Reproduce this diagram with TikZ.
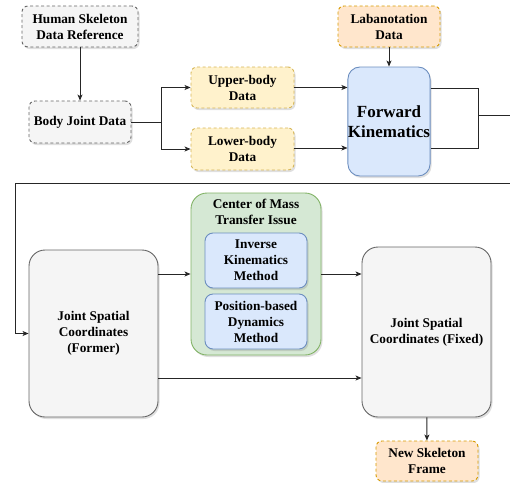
\documentclass[tikz,border=0pt]{standalone}
\usepackage{fontspec}
\setmainfont{Liberation Serif}
\usetikzlibrary{arrows.meta,shadows,calc}
\definecolor{grayfill}{HTML}{F5F5F5}
\definecolor{graydraw}{HTML}{666666}
\definecolor{yelfill}{HTML}{FFF2CC}
\definecolor{yeldraw}{HTML}{D6B656}
\definecolor{orfill}{HTML}{FFE6CC}
\definecolor{ordraw}{HTML}{D79B00}
\definecolor{bluefill}{HTML}{DAE8FC}
\definecolor{bluedraw}{HTML}{6C8EBF}
\definecolor{grnfill}{HTML}{D5E8D4}
\definecolor{grndraw}{HTML}{82B366}
\tikzset{
  x=1pt, y=-1pt,
  base/.style={rectangle, inner sep=0pt, align=center, font=\fontsize{13.3}{16}\selectfont\bfseries,
    line width=0.9pt, drop shadow={shadow xshift=1.5pt, shadow yshift=-2pt, opacity=0.25}},
  dashbox/.style={base, dash pattern=on 3pt off 2.5pt, rounded corners=6pt},
  graybox/.style={dashbox, fill=grayfill, draw=graydraw},
  yelbox/.style={dashbox, fill=yelfill, draw=yeldraw},
  orbox/.style={dashbox, fill=orfill, draw=ordraw},
  bluebox/.style={base, fill=bluefill, draw=bluedraw, rounded corners=8pt},
  bigbox/.style={base, fill=grayfill, draw=graydraw, rounded corners=16pt},
  grnbox/.style={base, fill=grnfill, draw=grndraw, rounded corners=16pt},
  conn/.style={line width=0.9pt, draw=black!85},
  arr/.style={conn, -{Stealth[length=6pt,width=5pt,inset=1.5pt]}},
}
\begin{document}
\begin{tikzpicture}
\useasboundingbox (0,0) rectangle (510,482);
\node[graybox, minimum width=116pt, minimum height=41pt] (hs) at (80,26.5) {Human Skeleton\\Data Reference};
\node[graybox, minimum width=102pt, minimum height=42pt] (bjd) at (80,122) {Body Joint Data};
\node[yelbox, minimum width=103pt, minimum height=41pt] (up) at (242.5,87.5) {Upper-body\\Data};
\node[yelbox, minimum width=103pt, minimum height=42pt] (low) at (242.5,149) {Lower-body\\Data};
\node[orbox, minimum width=102pt, minimum height=41pt] (lab) at (389,26.5) {Labanotation\\Data};
\node[bluebox, rounded corners=12pt, minimum width=82pt, minimum height=109pt,
  font=\fontsize{17}{20}\selectfont\bfseries] (fk) at (389,121.5) {Forward\\Kinematics};
\node[bigbox, minimum width=129pt, minimum height=167pt] (former) at (93.5,333.5) {Joint Spatial\\Coordinates\\(Former)};
\node[grnbox, minimum width=130pt, minimum height=162pt] (com) at (256,274) {};
\node[font=\fontsize{13.3}{16}\selectfont\bfseries, align=center, anchor=north, inner sep=0pt] (comt) at (256,199) {Center of Mass\\Transfer Issue};
\node[bluebox, minimum width=102pt, minimum height=55pt] (ik) at (256,260.5) {Inverse\\Kinematics\\Method};
\node[bluebox, minimum width=102pt, minimum height=55pt] (pbd) at (256,321.5) {Position-based\\Dynamics\\Method};
\node[bigbox, minimum width=129pt, minimum height=170pt] (fixed) at (426.5,332) {Joint Spatial\\Coordinates (Fixed)};
\node[orbox, minimum width=102pt, minimum height=40pt] (nsf) at (427,461) {New Skeleton\\Frame};

\draw[arr] (hs) -- (bjd);
\coordinate (split) at (161,122);
\draw[conn] (bjd.east) -- (split);
\draw[arr] (split) |- (up.west);
\draw[arr] (split) |- (low.west);
\draw[arr] (lab) -- (fk);
\draw[arr] (up.east) -- (up.east -| fk.west);
\draw[arr] (low.east |- 148,148) -- (fk.west |- 148,148);
\coordinate (join) at (478,115);
\coordinate (outr) at (510,115);
\draw[conn] (fk.east |- 0,88) -| (join) |- (fk.east |- 0,148);
\draw[conn] (join) -- (outr);
\coordinate (retr) at (510,183);
\coordinate (retl) at (15,183);
\draw[arr] (retr) -- (retl) |- (former.west);
\draw[arr] (former.east |- 0,274) -- (com.west |- 0,274);
\draw[arr] (com.east |- 0,274) -- (fixed.west |- 0,274);
\draw[arr] (former.east |- 0,378) -- (fixed.west |- 0,378);
\draw[arr] (fixed) -- (nsf);
\end{tikzpicture}
\end{document}
